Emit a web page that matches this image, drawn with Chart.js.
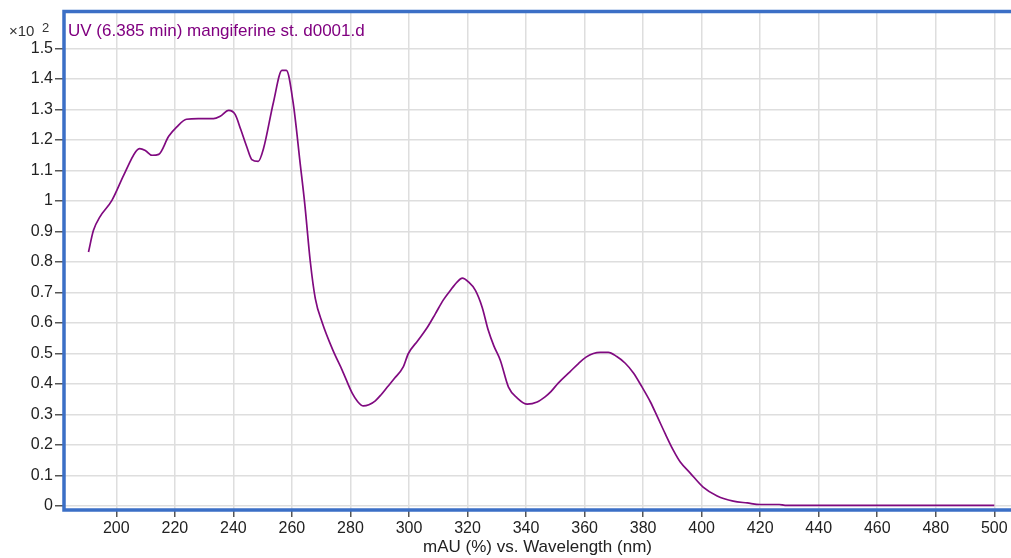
<!DOCTYPE html>
<html>
<head>
<meta charset="utf-8">
<script src="https://cdn.jsdelivr.net/npm/chart.js@4/dist/chart.umd.min.js"></script>
<style>
	html, body { margin: 0; padding: 0; overflow: hidden; background: #fff; }
	canvas { display: block; }
</style>
</head>
<body>
<canvas id="uvChart" width="1011" height="558"></canvas>
<script>
	// UV spectrum, wavelength (nm) vs. absorbance (x10^2 mAU)
	var wavelengths = [190.5, 192.2, 194.4, 198.5, 202.5, 206.5, 208, 210, 212.2, 214.5, 217.9, 220.6, 224,
		228, 233.2, 235.5, 238.4, 240.6, 242.5, 244.6, 246.3, 248.5, 250.3, 253.7, 256.6, 258.1, 260.4, 262.9,
		264.4, 266.3, 268, 270.4, 274, 277.2, 280.6, 282.5, 284.4, 286.3, 288.5, 290.4, 292.6, 295, 298, 299.8,
		303, 306.3, 309, 311.7, 314, 316.5, 318.2, 320.3, 322.7, 325, 327.1, 329, 331.2, 334, 337, 340.4,
		343.8, 346.5, 348.5, 351, 355, 358, 360.5, 363, 365.4, 368.1, 371, 373.9, 376.7, 379.5, 382.5, 384.9,
		387.5, 390.3, 392.7, 396.1, 400.5, 405.3, 410.8, 415.6, 420, 426.5, 428.5, 440, 460, 480, 500];
	var absorbance = [0.833, 0.904, 0.948, 1.002, 1.084, 1.16, 1.172, 1.165, 1.15, 1.153, 1.212, 1.242, 1.268,
		1.27, 1.27, 1.278, 1.297, 1.284, 1.235, 1.177, 1.136, 1.13, 1.172, 1.324, 1.428, 1.428, 1.324, 1.117,
		0.99, 0.8, 0.68, 0.6, 0.511, 0.445, 0.37, 0.342, 0.328, 0.332, 0.345, 0.364, 0.39, 0.418, 0.455, 0.5,
		0.542, 0.586, 0.63, 0.675, 0.705, 0.735, 0.747, 0.735, 0.707, 0.652, 0.576, 0.525, 0.478, 0.39, 0.354, 0.334,
		0.341, 0.358, 0.375, 0.403, 0.44, 0.468, 0.488, 0.5, 0.504, 0.504, 0.49, 0.468, 0.436, 0.392, 0.341, 0.292,
		0.238, 0.183, 0.144, 0.108, 0.062, 0.033, 0.016, 0.01, 0.005, 0.005, 0.002, 0.002, 0.002, 0.002, 0.002];

	var xTicks = [200, 220, 240, 260, 280, 300, 320, 340, 360, 380, 400, 420, 440, 460, 480, 500];
	var yTicks = [0, 0.1, 0.2, 0.3, 0.4, 0.5, 0.6, 0.7, 0.8, 0.9, 1, 1.1, 1.2, 1.3, 1.4, 1.5];
	var yTickLabels = ['0', '0.1', '0.2', '0.3', '0.4', '0.5', '0.6', '0.7', '0.8', '0.9', '1', '1.1', '1.2', '1.3', '1.4', '1.5'];

	var titleText = 'UV (6.385 min) mangiferine st. d0001.d';
	var fontFamily = '"Liberation Sans", Arial, sans-serif';

	/* ================= Frame + labels ================= */

	var framePlugin = {
		id: 'frame',
		afterDraw: function(chart) {
			var ctx = chart.ctx;
			var area = chart.chartArea;
			ctx.save();
			// open frame: top, left, bottom (right side runs off the picture)
			ctx.strokeStyle = '#3b6fc6';
			ctx.lineWidth = 3.5;
			ctx.beginPath();
			ctx.moveTo(chart.width + 5, area.top);
			ctx.lineTo(area.left, area.top);
			ctx.lineTo(area.left, area.bottom);
			ctx.lineTo(chart.width + 5, area.bottom);
			ctx.stroke();

			ctx.fillStyle = '#800080';
			ctx.font = '17px ' + fontFamily;
			ctx.textBaseline = 'alphabetic';
			ctx.fillText(titleText, 68, 36);

			ctx.fillStyle = '#333';
			ctx.font = '15px ' + fontFamily;
			ctx.fillText('\u00d710', 9, 36);
			ctx.font = '13px ' + fontFamily;
			ctx.fillText('2', 42, 32);
			ctx.restore();
		}
	};

	var data = {
		datasets: [{
			data: wavelengths.map(function(wl, i) {
				return { x: wl, y: absorbance[i] };
			}),
			borderColor: '#800a80',
			borderWidth: 1.7,
			pointRadius: 0,
			fill: false,
			cubicInterpolationMode: 'monotone'
		}]
	};

	var ctx = document.getElementById('uvChart');
	var uvChart = new Chart(ctx, {
		type: 'line',
		data: data,
		plugins: [framePlugin],
		options: {
			responsive: false,
			animation: false,
			devicePixelRatio: 1,
			layout: { padding: { top: 11, right: 0, left: 0, bottom: 0 } },
			plugins: {
				legend: { display: false },
				tooltip: { enabled: false }
			},
			scales: {
				x: {
					type: 'linear',
					min: 182.13,
					max: 505.7,
					afterBuildTicks: function(axis) {
						axis.ticks = xTicks.map(function(v) { return { value: v }; });
					},
					afterFit: function(axis) { axis.height = 48; },
					border: { display: false },
					grid: { color: '#dedede', lineWidth: 1.5, tickColor: '#555', tickLength: 7 },
					ticks: {
						color: '#222',
						padding: 2,
						maxRotation: 0,
						autoSkip: false,
						font: { family: fontFamily, size: 16 },
						callback: function(value) { return String(value); }
					},
					title: {
						display: true,
						text: 'mAU (%) vs. Wavelength (nm)',
						color: '#222',
						padding: { top: 0, bottom: 0 },
						font: { family: fontFamily, size: 17 }
					}
				},
				y: {
					min: -0.0131,
					max: 1.621,
					afterBuildTicks: function(axis) {
						axis.ticks = yTicks.map(function(v) { return { value: v }; });
					},
					afterFit: function(axis) { axis.width = 64; },
					border: { display: false },
					grid: { color: '#dedede', lineWidth: 1.5, tickColor: '#555', tickLength: 9 },
					ticks: {
						color: '#222',
						padding: 2,
						font: { family: fontFamily, size: 16 },
						callback: function(value) {
							var i = yTicks.indexOf(Math.round(value * 10) / 10);
							return i >= 0 ? yTickLabels[i] : '';
						}
					}
				}
			}
		}
	});
</script>
</body>
</html>
